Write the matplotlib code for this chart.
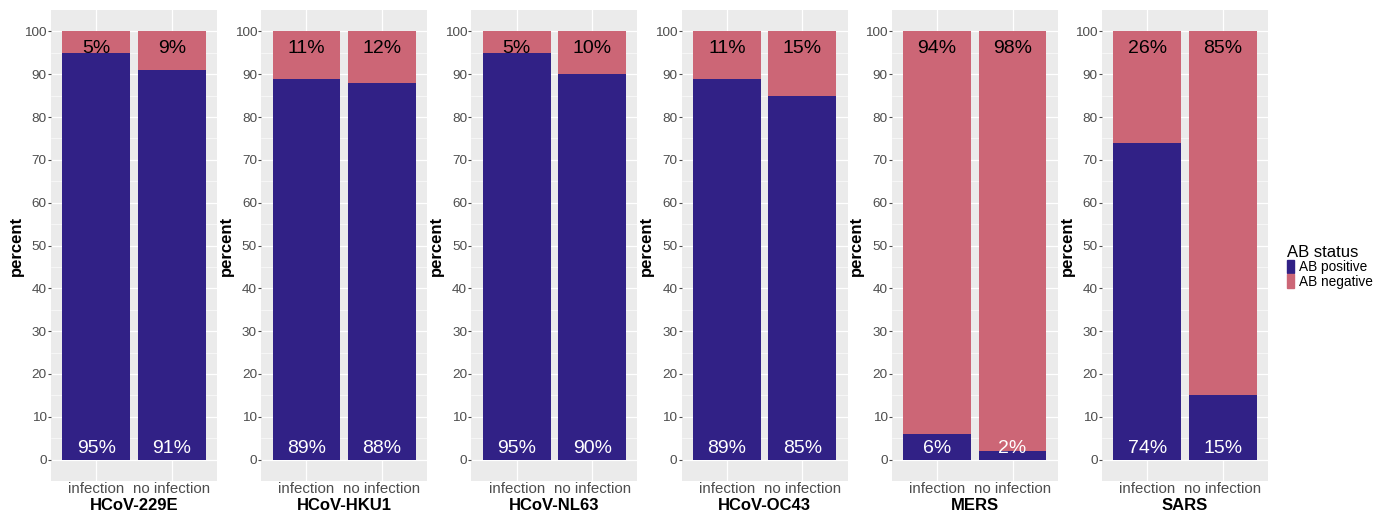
import numpy as np
import matplotlib.pyplot as plt
from matplotlib.patches import Patch

plt.rcParams['font.family'] = ['Liberation Sans', 'DejaVu Sans']

# data
viruses = ['HCoV-229E', 'HCoV-HKU1', 'HCoV-NL63', 'HCoV-OC43', 'MERS', 'SARS']
groups = ['infection', 'no infection']
ab_positive = [[95, 91], [89, 88], [95, 90], [89, 85], [6, 2], [74, 15]]
ab_negative = [[5, 9], [11, 12], [5, 10], [11, 15], [94, 98], [26, 85]]

col_pos = '#312186'
col_neg = '#cc6676'
bg = '#ebebeb'

W, H = 1381, 514
fig = plt.figure(figsize=(W / 100, H / 100), dpi=100)

x = np.arange(1, len(groups) + 1)
for i, name in enumerate(viruses):
    left = 51 + i * 210.2
    ax = fig.add_axes([left / W, 1 - 481 / H, 166 / W, 471 / H])
    ax.set_facecolor(bg)
    ax.set_yticks(np.arange(0, 101, 10))
    ax.set_yticks(np.arange(5, 100, 10), minor=True)
    ax.grid(True, which='major', color='white', linewidth=0.9, zorder=0)
    ax.grid(True, which='minor', axis='y', color='white', linewidth=0.4, zorder=0)
    pos = np.array(ab_positive[i])
    neg = np.array(ab_negative[i])
    ax.bar(x, pos, width=0.9, color=col_pos, zorder=3)
    ax.bar(x, neg, width=0.9, bottom=pos, color=col_neg, zorder=3)
    for xi, p, n in zip(x, pos, neg):
        ax.text(xi, 95.9, f'{n}%', ha='center', va='center', fontsize=14, color='black', zorder=4)
        ax.text(xi, 2.5, f'{p}%', ha='center', va='center', fontsize=14, color='white', zorder=4)
    ax.set_xlim(0.4, 2.6)
    ax.set_ylim(-5, 105)
    ax.set_xticks(x)
    ax.set_xticklabels(groups, fontsize=10.8, color='#4d4d4d')
    ax.tick_params(axis='y', labelsize=9.7, labelcolor='#4d4d4d', color='#4d4d4d', length=2, pad=1)
    ax.tick_params(axis='x', length=0, pad=1)
    ax.tick_params(which='minor', length=0)
    for s in ax.spines.values():
        s.set_visible(False)
    ax.set_xlabel(name, fontsize=12, fontweight='bold', labelpad=1)
    ax.set_ylabel('percent', fontsize=12, fontweight='bold')
    ax.yaxis.set_label_coords(-0.165, 0.5)

handles = [Patch(color=col_pos, label='AB positive'), Patch(color=col_neg, label='AB negative')]
fig.legend(handles=handles, title='AB status', loc='upper left', bbox_to_anchor=(1280 / W, 1 - 238 / H),
           frameon=False, fontsize=9.8, title_fontsize=12, handlelength=0.55, handleheight=1.15,
           handletextpad=0.35, labelspacing=0.0, alignment='left', borderpad=0)

plt.savefig('out.png', dpi=100)
